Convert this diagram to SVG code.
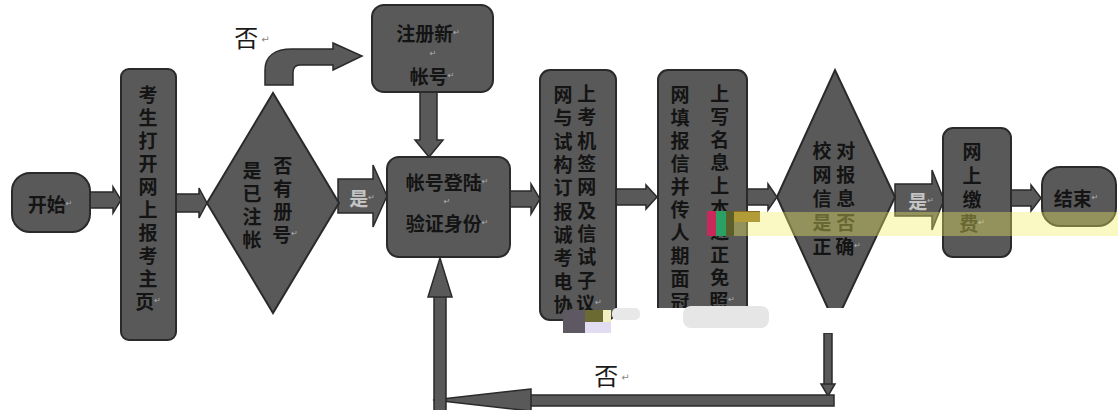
<svg xmlns="http://www.w3.org/2000/svg" width="1118" height="410" viewBox="0 0 1118 410">
<style>
.shape{fill:#595959;stroke:#2a2a2a;stroke-width:2}
.arr{fill:#595959;stroke:#2a2a2a;stroke-width:1.5}
.t{font-family:"Noto Sans CJK SC","Noto Sans",sans-serif;font-size:19px;font-weight:700;fill:#141414;text-anchor:middle;dominant-baseline:central}
.lt{fill:#c4c4c4}
.lab{font-family:"Noto Sans CJK SC","Noto Sans",sans-serif;font-size:24px;fill:#1a1a1a;text-anchor:middle}
.rm{font-family:"DejaVu Sans",sans-serif;font-size:8px;fill:#b0b0b0;font-weight:normal}
.rmw{font-family:"DejaVu Sans",sans-serif;font-size:10px;fill:#888}
</style>
<rect width="1118" height="410" fill="#ffffff"/>

<g id="connectors">
  <polygon class="arr" points="90,192 113,192 113,187 121,200 113,213 113,208 90,208"/>
  <polygon class="arr" points="176,194 199,194 199,188 207,203 199,218 199,212 176,212"/>
  <polygon class="arr" points="338,179 373,179 373,165 387,196 373,227 373,213 338,213"/>
  <polygon class="arr" points="420,92 437,92 437,140 443,140 429,157 415,140 420,140"/>
  <path class="arr" d="M265,85 L265,70 C265,56 275,49 292,49 L333,49 L333,43 L362,56 L333,70 L333,65 L300,65 C295,65 293,68 293,73 L293,85 Z"/>
  <polygon class="arr" points="510,191 531,191 531,184 540,199 531,214 531,207 510,207"/>
  <polygon class="arr" points="615,189 646,189 646,185 657,197 646,209 646,205 615,205"/>
  <polygon class="arr" points="747,189 768,189 768,184 777,197 768,210 768,205 747,205"/>
  <polygon class="arr" points="895,184 932,184 932,170 944,200 932,230 932,216 895,216"/>
  <polygon class="arr" points="1011,190 1031,190 1031,185 1041,198 1031,211 1031,206 1011,206"/>
  <rect class="arr" x="824" y="333" width="8" height="52"/>
  <polygon class="arr" points="821,384 835,384 828,396"/>
  <rect class="arr" x="528" y="395" width="306" height="11"/>
  <polygon class="arr" points="531,389 433,400 531,411"/>
  <rect class="arr" x="434" y="296" width="12" height="116"/>
  <polygon class="arr" points="428,297 440,258 452,297"/>
  <text class="t lt" x="362" y="197">是<tspan class="rm">↵</tspan></text>
  <text class="t lt" x="921" y="200">是<tspan class="rm">↵</tspan></text>
  <text class="lab" x="252" y="47">否<tspan class="rmw" dx="3" dy="-4">↵</tspan></text>
  <text class="lab" x="612" y="385">否<tspan class="rmw" dx="3" dy="-4">↵</tspan></text>
</g>

<g id="start">
  <rect class="shape" x="12" y="173" width="78" height="59" rx="18"/>
  <text class="t" x="50" y="203">开始<tspan class="rm">↵</tspan></text>
</g>

<g id="open-page">
  <rect class="shape" x="121" y="69" width="55" height="271" rx="8"/>
  <text class="t">
    <tspan x="148" y="93">考</tspan><tspan x="148" y="116">生</tspan><tspan x="148" y="139">打</tspan><tspan x="148" y="162">开</tspan><tspan x="148" y="185">网</tspan><tspan x="148" y="208">上</tspan><tspan x="148" y="231">报</tspan><tspan x="148" y="254">考</tspan><tspan x="148" y="277">主</tspan><tspan x="148" y="300">页<tspan class="rm">↵</tspan></tspan>
  </text>
</g>

<g id="check-registered">
  <polygon class="shape" points="207,203 273,93 339,203 273,313"/>
  <text class="t">
    <tspan x="252" y="169">是</tspan><tspan x="285" y="164">否</tspan>
    <tspan x="252" y="192">已</tspan><tspan x="285" y="187">有</tspan>
    <tspan x="252" y="215">注</tspan><tspan x="285" y="210">册</tspan>
    <tspan x="252" y="238">帐</tspan><tspan x="285" y="233">号<tspan class="rm">↵</tspan></tspan>
  </text>
</g>

<g id="register">
  <rect class="shape" x="372" y="5" width="121" height="87" rx="12"/>
  <text class="t" x="428" y="32">注册新<tspan class="rm">↵</tspan></text>
  <text class="t" x="433" y="53"><tspan class="rm">↵</tspan></text>
  <text class="t" x="432" y="75">帐号<tspan class="rm">↵</tspan></text>
</g>

<g id="login">
  <rect class="shape" x="387" y="157" width="123" height="100" rx="12"/>
  <text class="t" x="447" y="181">帐号登陆<tspan class="rm">↵</tspan></text>
  <text class="t" x="447" y="201"><tspan class="rm">↵</tspan></text>
  <text class="t" x="447" y="222">验证身份<tspan class="rm">↵</tspan></text>
</g>

<g id="sign-agreement">
  <rect class="shape" x="540" y="70" width="76" height="250" rx="10"/>
  <text class="t">
    <tspan x="563" y="93">网</tspan><tspan x="589" y="92">上</tspan>
    <tspan x="563" y="116">与</tspan><tspan x="589" y="115">考</tspan>
    <tspan x="563" y="140">试</tspan><tspan x="589" y="139">机</tspan>
    <tspan x="563" y="163">构</tspan><tspan x="589" y="162">签</tspan>
    <tspan x="563" y="186">订</tspan><tspan x="589" y="185">网</tspan>
    <tspan x="563" y="210">报</tspan><tspan x="589" y="209">及</tspan>
    <tspan x="563" y="233">诚</tspan><tspan x="589" y="232">信</tspan>
    <tspan x="563" y="256">考</tspan><tspan x="589" y="255">试</tspan>
    <tspan x="563" y="280">电</tspan><tspan x="589" y="279">子</tspan>
    <tspan x="563" y="303">协</tspan><tspan x="589" y="302">议<tspan class="rm">↵</tspan></tspan>
  </text>
</g>

<g id="fill-info">
  <rect class="shape" x="658" y="70" width="89" height="250" rx="10"/>
  <text class="t">
    <tspan x="680" y="93">网</tspan><tspan x="722" y="92">上</tspan>
    <tspan x="680" y="116">填</tspan><tspan x="722" y="115">写</tspan>
    <tspan x="680" y="139">报</tspan><tspan x="722" y="138">名</tspan>
    <tspan x="680" y="162">信</tspan><tspan x="722" y="161">息</tspan>
    <tspan x="680" y="185">并</tspan><tspan x="722" y="184">上</tspan>
    <tspan x="680" y="208">传</tspan><tspan x="722" y="207">本</tspan>
    <tspan x="680" y="231">人</tspan><tspan x="722" y="230">近</tspan>
    <tspan x="680" y="254">期</tspan><tspan x="722" y="253">正</tspan>
    <tspan x="680" y="277">面</tspan><tspan x="722" y="276">免</tspan>
    <tspan x="680" y="300">冠</tspan><tspan x="722" y="299">照<tspan class="rm">↵</tspan></tspan>
  </text>
</g>

<g id="verify-info">
  <polygon class="shape" points="777,197 835,70 895,197 835,324"/>
  <text class="t">
    <tspan x="822" y="149">校</tspan><tspan x="848" y="149">对</tspan>
    <tspan x="822" y="173">网</tspan><tspan x="848" y="173">报</tspan>
    <tspan x="822" y="197">信</tspan><tspan x="848" y="197">息</tspan>
    <tspan x="822" y="221">是</tspan><tspan x="848" y="221">否</tspan>
    <tspan x="822" y="245">正</tspan><tspan x="848" y="245">确<tspan class="rm">↵</tspan></tspan>
  </text>
</g>

<g id="pay">
  <rect class="shape" x="943" y="128" width="68" height="129" rx="10"/>
  <text class="t">
    <tspan x="972" y="150">网</tspan><tspan x="972" y="174">上</tspan><tspan x="972" y="198">缴</tspan><tspan x="972" y="222">费<tspan class="rm">↵</tspan></tspan>
  </text>
</g>

<g id="end">
  <rect class="shape" x="1042" y="167" width="74" height="59" rx="18"/>
  <text class="t" x="1076" y="197">结束<tspan class="rm">↵</tspan></text>
</g>

<g id="scan-marks">
  <rect x="652" y="308" width="228" height="25" fill="#ffffff"/>
  <rect x="683" y="306" width="86" height="22" rx="8" fill="#e6e6e6"/>
  <rect x="612" y="308" width="28" height="12" rx="5" fill="#e8e8e8"/>
  <rect x="563" y="310" width="22" height="23" fill="#5d5862"/>
  <rect x="585" y="310" width="18" height="12" fill="#6b6a33"/>
  <rect x="603" y="310" width="8" height="12" fill="#f2f0c0"/>
  <rect x="585" y="322" width="26" height="11" fill="#e2dcf2"/>
  <rect x="707" y="211" width="9" height="25" fill="#c8285a"/>
  <rect x="716" y="211" width="10" height="25" fill="#2aa064"/>
  <rect x="726" y="211" width="8" height="25" fill="#5d5f2a"/>
  <rect x="734" y="211" width="26" height="11" fill="#8a6a20"/>
  <rect x="734" y="212" width="384" height="24" fill="#f3ef60" fill-opacity="0.38"/>
</g>
</svg>
